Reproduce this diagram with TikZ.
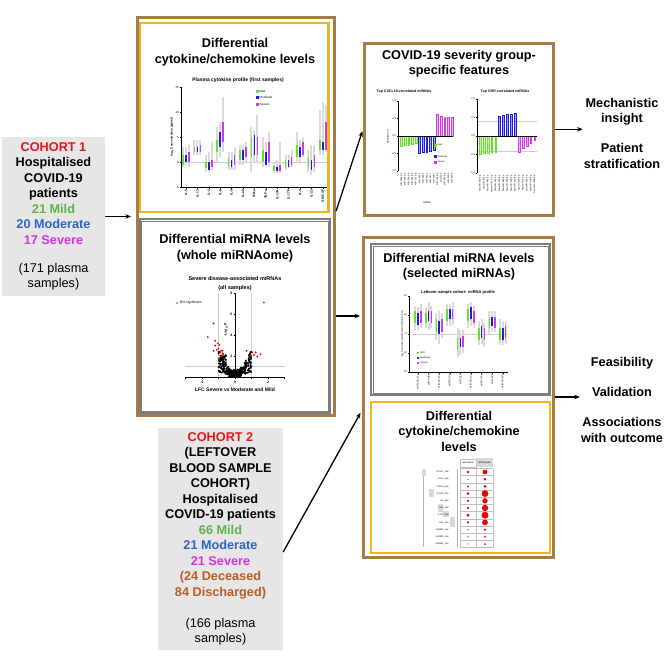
\documentclass[tikz,border=0pt]{standalone}
\usepackage{fontspec}
\setmainfont{Liberation Sans}
\usetikzlibrary{arrows.meta,calc}
\definecolor{cbrown}{RGB}{163,124,70}
\definecolor{cyellow}{RGB}{240,180,30}
\definecolor{cgray}{RGB}{125,125,125}
\definecolor{cfill}{RGB}{230,230,230}
\definecolor{tred}{RGB}{232,22,28}
\definecolor{tgreen}{RGB}{95,178,70}
\definecolor{tblue}{RGB}{45,100,200}
\definecolor{tmag}{RGB}{222,45,235}
\definecolor{tbrown}{RGB}{190,90,30}
\definecolor{pgreen}{RGB}{100,225,40}
\definecolor{pblue}{RGB}{30,30,225}
\definecolor{pmag}{RGB}{205,60,225}
\definecolor{pgray}{RGB}{205,205,205}
\definecolor{vgray}{RGB}{218,218,218}
\definecolor{dotred}{RGB}{225,10,10}
\newcommand\myfs[1]{\fontsize{#1}{#1}\selectfont}
\begin{document}
\begin{tikzpicture}[x=1pt,y=-1pt,
 brownbox/.style={draw=cbrown,line width=3pt,inner sep=0pt},
 yellowbox/.style={draw=cyellow,line width=2.2pt,inner sep=0pt},
 graybox/.style={draw=cgray,line width=2pt,inner sep=0pt},
 cohortbox/.style={fill=cfill,inner sep=0pt,align=center,font=\bfseries\fontsize{12.7}{15.5}\selectfont},
 boxtitle/.style={align=center,font=\bfseries\fontsize{12.7}{15.5}\selectfont,inner sep=1pt},
 arr/.style={-{Stealth[length=5.5pt,width=4.5pt]},line width=1.3pt},
 ax/.style={line width=0.35pt},
 tk/.style={font=\myfs{3}, inner sep=0.5pt},
 lab/.style={rotate=90,anchor=east,inner sep=0.3pt,font=\myfs{2.3}},
 vrange/.style={vgray,line width=1.9pt},
 viqr/.style={line width=1.6pt}
]
\useasboundingbox (0,0) rectangle (664,664);
\fill[white] (0,0) rectangle (664,664);

% ---------------- cohort boxes ----------------
\node[cohortbox,minimum width=103pt,minimum height=159pt] (c1) at (53.5,216.5)
 {\textcolor{tred}{COHORT 1}\\Hospitalised\\COVID-19\\patients\\\textcolor{tgreen}{21 Mild}\\\textcolor{tblue}{20 Moderate}\\\textcolor{tmag}{17 Severe}\\[12.5pt]\mdseries(171 plasma\\\mdseries samples)};

\node[cohortbox,minimum width=125pt,minimum height=222pt] (c2) at (220.5,539)
 {\textcolor{tred}{COHORT 2}\\(LEFTOVER\\BLOOD SAMPLE\\COHORT)\\Hospitalised\\COVID-19 patients\\\textcolor{tgreen}{66 Mild}\\\textcolor{tblue}{21 Moderate}\\\textcolor{tmag}{21 Severe}\\\textcolor{tbrown}{(24 Deceased}\\\textcolor{tbrown}{84 Discharged)}\\[15.5pt]\mdseries(166 plasma\\\mdseries samples)};

% ---------------- frames ----------------
\node[brownbox,minimum width=197pt,minimum height=397.5pt] (big) at (236,216.25) {};
\node[yellowbox,minimum width=188.5pt,minimum height=189pt] (cy1) at (234.25,117.5) {};
\node[graybox,minimum width=190.5pt,minimum height=194pt] (mw) at (234.75,316) {};
\draw[cgray,line width=0.6pt] ([shift={(3pt,-3pt)}]mw.north west) rectangle ([shift={(-3pt,3pt)}]mw.south east);

\node[brownbox,minimum width=188.5pt,minimum height=171.5pt] (tr) at (458.75,129.25) {};
\node[brownbox,minimum width=190pt,minimum height=320pt] (br) at (458,397) {};
\node[graybox,minimum width=179pt,minimum height=151pt] (ms) at (460.5,319.5) {};
\draw[cgray,line width=0.6pt] ([shift={(3pt,-3pt)}]ms.north west) rectangle ([shift={(-3pt,3pt)}]ms.south east);
\node[yellowbox,minimum width=179pt,minimum height=151pt] (cy2) at (460.5,477.5) {};

% ---------------- titles ----------------
\node[boxtitle] at (235,52) {Differential\\cytokine/chemokine levels};
\node[boxtitle] at (235,248) {Differential miRNA levels\\(whole miRNAome)};
\node[boxtitle] at (459,63.5) {COVID-19 severity group-\\specific features};
\node[boxtitle] at (459,266.5) {Differential miRNA levels\\(selected miRNAs)};
\node[boxtitle] at (459,431) {Differential\\cytokine/chemokine\\levels};

\node[boxtitle] (t1) at (622,133) {Mechanistic\\insight\\[14.5pt]Patient\\stratification};
\node[boxtitle] (t2) at (622,400) {Feasibility\\[14pt]Validation\\[15pt]Associations\\with outcome};

% ---------------- arrows ----------------
\draw[arr,shorten >=5pt] (c1.east) -- (c1.east -| big.west);
\draw[arr,shorten >=2pt] ([yshift=5pt]big.east) -- (tr.west);
\draw[arr,shorten >=1.5pt] (mw.east -| big.east) -- (mw.east -| br.west);
\draw[arr,shorten >=2pt] ([yshift=-13pt]c2.east) -- ([yshift=-14pt]br.west);
\draw[arr] (tr.east) -- (tr.east -| t1.west);
\draw[arr] (br.east) -- (br.east -| t2.west);

% ================= Chart A: cytokine profile =================
\node[font=\bfseries\myfs{5}] at (238,80) {Plasma cytokine profile (first samples)};
\draw[pgray,line width=0.3pt] (181,162) -- (327,162);
\foreach \i/\lab/\ga/\gb/\gc/\gd/\ba/\bb/\bc/\bd/\ma/\mb/\mc/\md in {
 0/IL-5/-1/-0.5/1.5/3/-0.5/0/1.5/3/-1/0/2/3.5,
 1/IL-13/1.5/2/3/4.5/1.5/2/3/4.5/1.5/2/3.5/4.5,
 2/IL-2/-2/-1.2/0/1.5/-2/-1.5/0/2/-1.5/-1/0.5/4,
 3/IL-6/0/2/4.5/7/1/3/6/8/2/4/8/13,
 4/IL-9/-1.5/-0.8/0.8/2/-1.5/-1/0.5/2/-1.5/-0.5/1.5/3,
 5/IL-10/-0.5/0.5/2.5/3.5/-0.5/0.5/2.5/3.5/0/1/3/4,
 6/IFN-γ/-2/1/5/7/0/1.5/5.5/6.5/0/1.5/5/9.5,
 7/TNF-α/-1/0/2.5/5/-1/-0.5/2/4/-1/0/4/6,
 8/IL-17A/-2/-1.8/-0.8/0/-2.2/-1.8/-1/0.5/-2.2/-1.8/-0.5/4,
 9/IL-17F/-1.5/-1/0.5/1.5/-1.2/-1/0.5/1.5/-1/-0.5/1/2.5,
 10/IL-4/0/1/3.5/6/0/1/3/4.5/1/1.5/4/5,
 11/IL-22/-2/-1/1/2.5/-2.5/-1.5/0.5/3.5/-2/-1/1.5/3.5,
 12/GM-CSF/1.5/2.5/4.5/10.5/1.5/2.5/4/12/2/2.5/8/11.5}{
  \pgfmathsetmacro\cx{186+11.4*\i}
  \draw[vrange] ({\cx-3},{162-5*(\ga)}) -- ({\cx-3},{162-5*(\gd)});
  \draw[vrange] ({\cx},{162-5*(\ba)}) -- ({\cx},{162-5*(\bd)});
  \draw[vrange] ({\cx+3},{162-5*(\ma)}) -- ({\cx+3},{162-5*(\md)});
  \draw[viqr,pgreen] ({\cx-3},{162-5*(\gb)}) -- ({\cx-3},{162-5*(\gc)});
  \draw[viqr,pblue] ({\cx},{162-5*(\bb)}) -- ({\cx},{162-5*(\bc)});
  \draw[viqr,pmag] ({\cx+3},{162-5*(\mb)}) -- ({\cx+3},{162-5*(\mc)});
  \draw[ax] (\cx,187) -- (\cx,188.5);
  \node[rotate=90,anchor=east,inner sep=0.5pt,font=\bfseries\myfs{3.2}] at (\cx,189) {\lab};
}
\draw[ax] (181,87) -- (181,187) -- (327,187);
\foreach \v/\t in {87/15,112/10,137/5,162/0,187/-5}{
  \draw[ax] (179.5,\v) -- (181,\v);
  \node[tk,anchor=east] at (179.5,\v) {\t};}
\node[rotate=90,font=\bfseries\myfs{3}] at (172,137) {log\textsubscript{2} Concentration (pg/ml)};
\foreach \y/\c/\t in {91/pgreen/Mild,97.5/pblue/Moderate,104/pmag/Severe}{
  \fill[\c] (255.5,{\y-1.5}) rectangle (258.5,{\y+1.5});
  \node[tk,anchor=west] at (259,\y) {\t};}

% ================= Chart B: volcano =================
\node[font=\bfseries\fontsize{5.5}{8.5}\selectfont,align=center] at (235,283.5) {Severe disease-associated miRNAs\\(all samples)};
\draw[pgray,line width=0.4pt] (218.5,293) -- (218.5,377);
\draw[pgray,line width=0.4pt] (251.5,293) -- (251.5,377);
\draw[pgray,line width=0.4pt] (185,366) -- (285,366);
\pgfmathsetseed{11}
\foreach \k in {1,...,260}{
  \pgfmathsetmacro\vx{rand*1.0}
  \pgfmathsetmacro\vy{abs(\vx)*(0.5+2.0*rnd)}
  \fill ({235+16.5*\vx},{377-10.5*\vy}) circle (1.05pt);}
\foreach \k in {1,...,90}{
  \pgfmathsetmacro\vx{rand*0.4}
  \pgfmathsetmacro\vy{0.7*rnd}
  \fill ({235+16.5*\vx},{377-10.5*\vy}) circle (1.05pt);}
\foreach \k in {1,...,40}{
  \pgfmathsetmacro\vx{-0.55-0.35*rnd}
  \pgfmathsetmacro\vy{1.0+1.1*rnd}
  \fill ({235+16.5*\vx},{377-10.5*\vy}) circle (1.05pt);}
\draw[ax] (185,377) -- (285,377);
\draw[ax] (235,293) -- (235,377);
\foreach \lx in {-3,...,3}{\draw[ax] ({235+16.5*\lx},377) -- ({235+16.5*\lx},379);}
\foreach \lx in {-2,0,2}{\node[font=\bfseries\myfs{3.5},inner sep=0.5pt] at ({235+16.5*\lx},382.5) {\lx};}
\foreach \v in {2,4,6,8}{
  \draw[ax] (233.5,{377-10.5*\v}) -- (235,{377-10.5*\v});
  \node[font=\bfseries\myfs{3.5},inner sep=0.5pt,anchor=east] at (233,{377-10.5*\v}) {\v};}
\node[rotate=90,font=\bfseries\myfs{3.5}] at (226,330) {-Log\textsubscript{10}P};
\node[font=\bfseries\myfs{5}] at (235,390) {LFC Severe vs Moderate and Mild};
\foreach \px/\py in {-1.3/5.1,-1.65/3.8,-1.2/3.45,-1.05/3.2,-0.95/3.05,-1.2/3.0,-1.0/2.7,-0.85/2.5,-0.9/2.35,-0.75/2.5,-0.75/2.25,-0.7/2.15,-1.3/2.5,-1.1/2.6,-0.8/2.05,0.7/2.5,1.05/2.35,1.25/2.35,1.0/2.0,1.15/2.1,1.55/2.2,1.35/1.95,1.75/7.1}{
  \fill[dotred] ({235+16.5*\px},{377-10.5*\py}) circle (1.05pt);}
\fill[dotred] (177,303) circle (0.95pt);
\node[anchor=west,font=\myfs{3.5},inner sep=0.5pt] at (179.5,303) {BH significant};

% ================= Chart C: CXCL10 bars =================
\node[font=\bfseries\myfs{3.6}] at (404,92) {Top CXCL10-correlated miRNAs};
\draw[ax] (398,101) -- (398,171);
\foreach \v/\t in {101/1.0,118.5/0.5,136/0.0,153.5/-0.5,171/-1.0}{
  \draw[ax] (396.5,\v) -- (398,\v);
  \node[anchor=east,font=\myfs{2.5},inner sep=0.4pt] at (396.5,\v) {\t};}
\node[rotate=90,font=\myfs{2.5}] at (388,136) {Spearman r.c.};
\foreach \k/\v/\c/\lab in {0/-0.30/pgreen/miR-148a-3p,1/-0.27/pgreen/miR-26b-5p,2/-0.26/pgreen/miR-26a-5p,3/-0.23/pgreen/miR-30e-5p,4/-0.20/pgreen/miR-101-3p,
 5/-0.50/pblue/miR-4532,6/-0.47/pblue/miR-3960,7/-0.46/pblue/miR-4516,8/-0.44/pblue/miR-7977,9/-0.41/pblue/miR-6087,
 10/0.63/pmag/miR-122-5p,11/0.57/pmag/miR-375,12/0.54/pmag/miR-885-5p,13/0.53/pmag/miR-1246,14/0.53/pmag/miR-320b}{
  \pgfmathsetmacro\bx{401.5+3.6*\k}
  \draw[draw=\c,fill=\c!40,line width=0.4pt] ({\bx-0.9},136) rectangle ({\bx+0.9},{136-35*(\v)});
  \node[lab] at (\bx,173) {\lab};}
\draw[ax] (398,136) -- (453,136);
\foreach \y/\c/\t in {145/pgreen/Mild,156.5/pblue/Moderate,162/pmag/Severe}{
  \fill[\c] (433.5,{\y-1.5}) rectangle (436.5,{\y+1.5});
  \node[anchor=west,font=\myfs{2.3},inner sep=0.4pt] at (437,\y) {\t};}
\node[font=\myfs{2.5}] at (427,203) {miRNA};

% ================= Chart D: CRP bars =================
\node[font=\bfseries\myfs{3.6}] at (505,92) {Top CRP-correlated miRNAs};
\draw[pgray,line width=0.4pt] (477,121) -- (537,121);
\draw[pgray,line width=0.4pt] (477,151) -- (537,151);
\draw[ax] (477,99) -- (477,173);
\foreach \v/\t in {99/1.0,117.5/0.5,136/0.0,154.5/-0.5,173/-1.0}{
  \draw[ax] (475.5,\v) -- (477,\v);
  \node[anchor=east,font=\myfs{2.5},inner sep=0.4pt] at (475.5,\v) {\t};}
\foreach \k/\v/\c/\lab in {0/-0.49/pgreen/hsa-miR-144-5p,1/-0.47/pgreen/hsa-miR-451a,2/-0.46/pgreen/hsa-miR-486-5p,3/-0.45/pgreen/hsa-miR-16-2-3p,4/-0.45/pgreen/hsa-miR-363-3p,
 5/0.54/pblue/hsa-miR-122-5p,6/0.56/pblue/hsa-miR-885-5p,7/0.58/pblue/hsa-miR-192-5p,8/0.60/pblue/hsa-miR-194-5p,9/0.62/pblue/hsa-miR-215-5p,
 10/-0.43/pmag/hsa-miR-93-5p,11/-0.33/pmag/hsa-miR-25-3p,12/-0.27/pmag/hsa-miR-92a-3p,13/-0.19/pmag/hsa-miR-20a-5p,14/-0.11/pmag/hsa-miR-106b-5p}{
  \pgfmathsetmacro\bx{480+3.9*\k}
  \draw[draw=\c,fill=\c!40,line width=0.4pt] ({\bx-0.9},136) rectangle ({\bx+0.9},{136-37*(\v)});
  \node[lab] at (\bx,175) {\lab};}
\draw[ax] (477,136) -- (537,136);

% ================= Chart E: selected miRNAs =================
\node[font=\bfseries\myfs{4}] at (458,292) {Leftover sample cohort: miRNA profile};
\draw[pgray,line width=0.3pt] (409,334) -- (508,334);
\foreach \i/\lab/\ga/\gb/\gc/\gd/\ba/\bb/\bc/\bd/\ma/\mb/\mc/\md in {
 0/miR-146a-5p/2/6/12/15/2/5/11/14/3/6/12/16,
 1/miR-4668/3/6/11/14/2/7/12/17/3/6/12/15,
 2/miR-423-5p/-3/1/8/11/-5/0/7/12/-2/1/8/11,
 3/miR-21-5p/4/7/13/16/4/8/13/16/5/8/13/17,
 4/miR-320/-12/-8/-2/3/-11/-7/-2/2/-10/-7/-1/2,
 5/miR-92a-3p/3/7/13/16/4/8/14/17/3/6/12/15,
 6/miR-16-5p/-6/-3/3/7/-5/-2/4/8/-7/-3/3/6,
 7/miR-126/0/3/9/12/1/4/9/12/1/3/9/12,
 8/miR-30a-5p/-6/-3/3/8/-6/-3/3/7/-5/-2/4/7}{
  \pgfmathsetmacro\cx{418+10.6*\i}
  \draw[vrange] ({\cx-2.8},{334-1.9*(\ga)}) -- ({\cx-2.8},{334-1.9*(\gd)});
  \draw[vrange] ({\cx},{334-1.9*(\ba)}) -- ({\cx},{334-1.9*(\bd)});
  \draw[vrange] ({\cx+2.8},{334-1.9*(\ma)}) -- ({\cx+2.8},{334-1.9*(\md)});
  \draw[viqr,pgreen] ({\cx-2.8},{334-1.9*(\gb)}) -- ({\cx-2.8},{334-1.9*(\gc)});
  \draw[viqr,pblue] ({\cx},{334-1.9*(\bb)}) -- ({\cx},{334-1.9*(\bc)});
  \draw[viqr,pmag] ({\cx+2.8},{334-1.9*(\mb)}) -- ({\cx+2.8},{334-1.9*(\mc)});
  \draw[ax] (\cx,372) -- (\cx,373.5);
  \node[lab,font=\myfs{2.6}] at (\cx,374) {\lab};
}
\draw[ax] (409,296) -- (409,372) -- (508,372);
\foreach \v/\t in {296/20,315/10,334/0,353/-10,372/-20}{
  \draw[ax] (407.5,\v) -- (409,\v);
  \node[anchor=east,font=\myfs{2.5},inner sep=0.4pt] at (407.5,\v) {\t};}
\node[rotate=90,font=\myfs{2.3}] at (402.5,334) {log\textsubscript{2} Normalised fluorescence (arbitrary units)};
\foreach \y/\c/\t in {353/pgreen/Mild,358/pblue/Moderate,363/pmag/Severe}{
  \fill[\c] (416.5,{\y-1.4}) rectangle (419.3,{\y+1.4});
  \node[anchor=west,font=\myfs{2.3},inner sep=0.4pt] at (419.8,\y) {\t};}

% ================= Chart F: dot table =================
\fill[black!15] (422,469) rectangle (426,476);
\fill[black!15] (429,489) rectangle (434,497);
\fill[black!15] (438,504) rectangle (443,512);
\fill[black!15] (443,511) rectangle (449,517);
\fill[black!15] (450,517) rectangle (455,527);
\draw[black!30,line width=0.5pt] (423,476) -- (423,547);
\draw[black!30,line width=0.5pt] (457,469) -- (457,547);
\fill[black!15] (476,458) rectangle (493,467);
\draw[black!25,line width=0.3pt] (460,459) rectangle (476,467);
\node[font=\myfs{2.5},inner sep=0pt] at (468,463) {deceased};
\node[font=\myfs{2.5},inner sep=0pt] at (484.5,462.5) {discharged};
\foreach \xx in {460,476,493}{\draw[black!25,line width=0.3pt] (\xx,468.5) -- (\xx,548);}
\foreach \r in {0,...,11}{\draw[black!25,line width=0.3pt] (460,{468.4+7.2*\r}) -- (493,{468.4+7.2*\r});}
\foreach \r/\lab/\da/\db in {0/CCL17\_low/1.4/2.4,1/CCL5\_low/0.7/1.4,2/CXCL8\_low/1.1/1.5,3/CCL20\_low/1.4/3.4,4/IL6\_low/1.2/2.7,5/IL10\_low/1.4/3.2,6/IL17F\_low/1.7/3.5,7/IL22\_low/1.2/2.9,8/miR486\_low/0.7/1.2,9/miR92b\_low/0.7/1.0,10/miR451\_low/0.7/1.0}{
  \pgfmathsetmacro\ry{472+7.2*\r}
  \node[anchor=east,font=\myfs{2.3},inner sep=0.3pt] at (449,\ry) {\lab};
  \fill[dotred] (468,\ry) circle (\da pt);
  \fill[dotred] (485,\ry) circle (\db pt);}
\end{tikzpicture}
\end{document}
